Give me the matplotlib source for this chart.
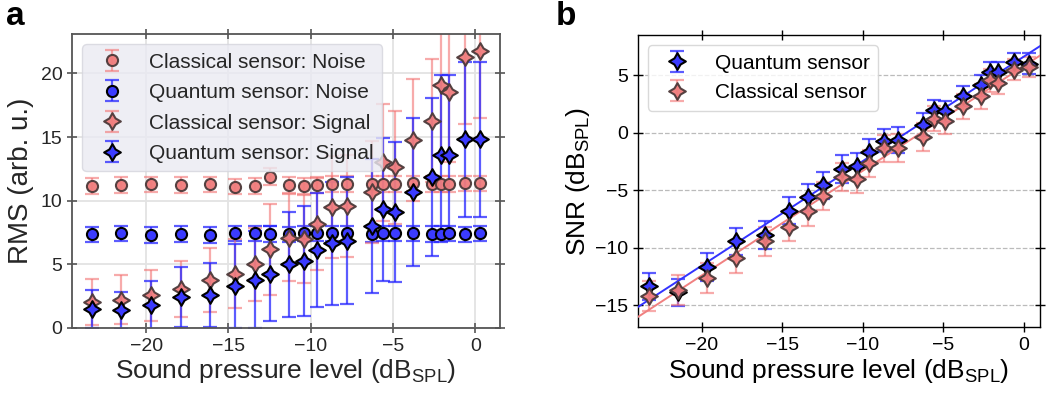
import numpy as np
import matplotlib
matplotlib.use("Agg")
import matplotlib.pyplot as plt
from matplotlib.path import Path

plt.rcParams['font.family'] = ['Liberation Sans', 'DejaVu Sans']
plt.rcParams['mathtext.default'] = 'regular'

# ---------------- data ----------------
spl = [-23.3, -21.5, -19.7, -17.9, -16.1, -14.6, -13.4, -12.5, -11.3, -10.4, -9.6,
       -8.7, -7.8, -6.25, -5.6, -4.9, -3.8, -2.65, -2.1, -1.6, -0.6, 0.3]

cl_noise = [11.15, 11.23, 11.29, 11.23, 11.29, 11.10, 11.15, 11.89, 11.23, 11.15, 11.23,
            11.31, 11.31, 11.31, 11.31, 11.31, 11.36, 11.31, 11.31, 11.31, 11.36, 11.36]
cl_noise_err = [0.6] * 7 + [0.65] + [0.6] * 14

qu_noise = [7.35, 7.43, 7.30, 7.38, 7.30, 7.43, 7.43, 7.38, 7.35, 7.43, 7.43,
            7.43, 7.43, 7.38, 7.43, 7.43, 7.43, 7.38, 7.38, 7.43, 7.35, 7.43]
qu_noise_err = [0.6] * 22

cl_signal = [2.05, 2.23, 2.57, 3.10, 3.75, 4.28, 5.01, 6.17, 7.11, 6.96, 8.16,
             9.53, 9.58, 10.71, 13.02, 12.62, 14.78, 16.30, 19.11, 18.56, 21.29, 21.78]
cl_signal_err = [1.8, 1.9, 2.0, 2.2, 2.5, 2.7, 2.85, 3.6, 3.4, 3.45, 3.6,
                 4.0, 4.0, 4.0, 4.6, 4.45, 4.8, 4.8, 5.5, 5.5, 5.25, 5.25]

qu_signal = [1.47, 1.39, 1.78, 2.44, 2.57, 3.31, 3.81, 4.28, 4.99, 5.28, 6.12,
             6.64, 6.85, 8.01, 9.32, 9.13, 10.66, 11.84, 13.60, 13.60, 14.83, 14.83]
qu_signal_err = [1.5, 1.45, 1.9, 2.35, 2.5, 3.3, 3.8, 3.7, 4.1, 4.3, 4.45,
                 4.8, 5.0, 5.25, 5.6, 5.5, 5.8, 6.2, 6.3, 6.3, 6.1, 6.1]

qu_snr = [-13.35, -13.87, -11.68, -9.45, -8.87, -6.76, -5.61, -4.57, -3.15, -2.86, -1.68,
          -0.69, -0.64, 0.72, 1.97, 1.88, 3.21, 4.13, 5.29, 5.29, 6.16, 6.01]
qu_snr_err = [1.2, 1.2, 1.2, 1.2, 1.2, 1.2, 1.2, 1.2, 1.2, 1.1, 1.1,
              1.0, 1.1, 1.0, 0.9, 0.9, 0.9, 0.9, 0.9, 0.9, 0.8, 0.9]

cl_snr = [-14.16, -13.64, -12.63, -10.92, -9.45, -8.15, -6.79, -5.49, -3.87, -4.05, -2.66,
          -1.36, -1.33, -0.35, 1.24, 1.01, 2.31, 3.18, 4.57, 4.36, 5.49, 5.72]
cl_snr_err = [1.3, 1.3, 1.3, 1.3, 1.3, 1.3, 1.3, 1.2, 1.2, 1.2, 1.2,
              1.2, 1.2, 1.2, 1.1, 1.1, 1.1, 1.1, 1.0, 1.0, 0.9, 0.9]

# ---------------- style ----------------
star = Path.unit_regular_star(4, 0.52)
RED_FACE = '#F07C7C'
RED_EDGE = '#4D3A3A'
RED_BAR = (0.95, 0.45, 0.45, 0.6)
BLUE_FACE = '#3B3BFF'
BLUE_BAR = (0.15, 0.15, 1.0, 0.75)


def eb(ax, x, y, e, marker, ms, mfc, mec, ecol, label, alpha=1.0):
    ax.errorbar(x, y, yerr=e, fmt='none', ecolor=ecol, elinewidth=1.6,
                capsize=5, capthick=1.6, zorder=2)
    ax.plot(x, y, linestyle='none', marker=marker, ms=ms, mfc=mfc, mec=mec,
            mew=1.5, alpha=alpha, zorder=4)
    # legend proxy (error bar + marker)
    h = ax.errorbar([np.nan], [np.nan], yerr=[1], fmt='none', ecolor=ecol,
                    elinewidth=1.6, capsize=5, capthick=1.6)
    hm, = ax.plot([np.nan], [np.nan], linestyle='none', marker=marker, ms=ms,
                  mfc=mfc, mec=mec, mew=1.5, alpha=alpha)
    return (h, hm), label


fig = plt.figure(figsize=(10.47, 3.98), dpi=100)
ax1 = fig.add_axes([0.0688, 0.1759, 0.4088, 0.7387])
ax2 = fig.add_axes([0.609, 0.178, 0.3843, 0.734])

# ---------------- panel a ----------------
grey = '#555555'
txtc = '#262626'
handles, labels = [], []
for y, e, mk, ms, fc, ec, bc, lab, al in [
        (cl_noise, cl_noise_err, 'o', 8, RED_FACE, RED_EDGE, RED_BAR, 'Classical sensor: Noise', 0.95),
        (qu_noise, qu_noise_err, 'o', 8, BLUE_FACE, 'black', BLUE_BAR, 'Quantum sensor: Noise', 1.0),
        (cl_signal, cl_signal_err, star, 12, RED_FACE, RED_EDGE, RED_BAR, 'Classical sensor: Signal', 0.95),
        (qu_signal, qu_signal_err, star, 12, BLUE_FACE, 'black', BLUE_BAR, 'Quantum sensor: Signal', 1.0)]:
    h, l = eb(ax1, spl, y, e, mk, ms, fc, ec, bc, lab, al)
    handles.append(h)
    labels.append(l)

ax1.set_xlim(-24.5, 1.5)
ax1.set_ylim(0, 23.1)
ax1.set_xticks([-20, -15, -10, -5, 0])
ax1.set_yticks([0, 5, 10, 15, 20])
ax1.grid(True, color='#E3E3E3', lw=1.3, zorder=0)
ax1.set_axisbelow(True)
for s in ax1.spines.values():
    s.set_color(grey)
    s.set_linewidth(1.3)
ax1.tick_params(direction='inout', length=7, width=1.2, color=grey, labelcolor=txtc,
                labelsize=14, top=True, right=True)
ax1.set_xlabel(r'Sound pressure level (dB$_{SPL}$)', fontsize=19, color=txtc, labelpad=2)
ax1.set_ylabel('RMS (arb. u.)', fontsize=20, color=txtc, labelpad=5)
leg1 = ax1.legend(handles, labels, loc='upper left', fontsize=15, facecolor='#EAEAF2',
                  edgecolor='#D5D5DD', framealpha=0.8, labelspacing=0.55)
for t in leg1.get_texts():
    t.set_color(txtc)
leg1.set_zorder(5)

# ---------------- panel b ----------------
h_q, _ = eb(ax2, spl, qu_snr, qu_snr_err, star, 12, BLUE_FACE, 'black', BLUE_BAR, 'Quantum sensor')
h_c, _ = eb(ax2, spl, cl_snr, cl_snr_err, star, 12, RED_FACE, RED_EDGE, RED_BAR, 'Classical sensor', 0.95)

xfit = np.array([-24.0, 1.0])
pq = np.polyfit(spl, qu_snr, 1)
pc = np.polyfit(spl, cl_snr, 1)
ax2.plot(xfit, np.polyval(pq, xfit), color='#3333FF', lw=1.4, zorder=3)
ax2.plot(xfit, np.polyval(pc, xfit), color='#F08080', lw=1.4, zorder=3)

ax2.set_xlim(-24.0, 1.0)
ax2.set_ylim(-16.9, 8.5)
ax2.set_xticks([-20, -15, -10, -5, 0])
ax2.set_yticks([-15, -10, -5, 0, 5])
ax2.yaxis.grid(True, linestyle='--', color='#BBBBBB', lw=0.9, zorder=0)
ax2.set_axisbelow(True)
for s in ax2.spines.values():
    s.set_color('black')
    s.set_linewidth(1.0)
ax2.tick_params(direction='inout', length=7, width=1.0, labelsize=14, top=True, right=True)
ax2.set_xlabel(r'Sound pressure level (dB$_{SPL}$)', fontsize=19, labelpad=2)
ax2.set_ylabel(r'SNR (dB$_{SPL}$)', fontsize=19, labelpad=2)
ax2.legend([h_q, h_c], ['Quantum sensor', 'Classical sensor'], loc='upper left',
           fontsize=15, facecolor='white', edgecolor='#D0D0D0', framealpha=0.8)

fig.text(0.006, 0.937, 'a', fontsize=24, fontweight='bold', va='baseline')
fig.text(0.531, 0.937, 'b', fontsize=24, fontweight='bold', va='baseline')

fig.savefig('out.png', dpi=100)
